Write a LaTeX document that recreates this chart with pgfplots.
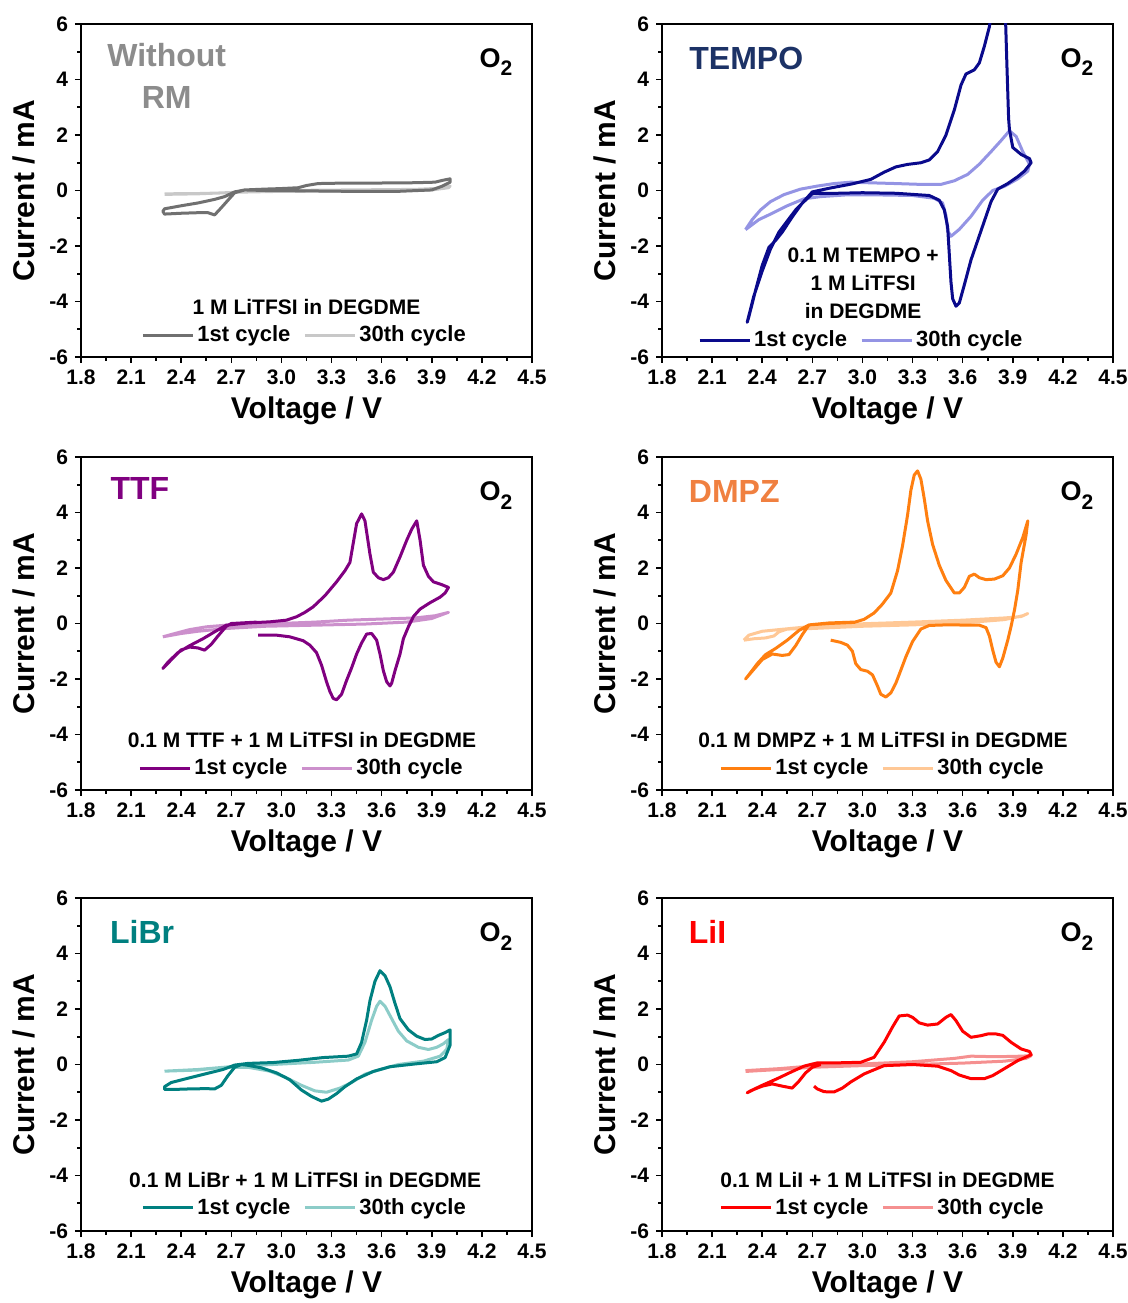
\documentclass[border=0pt]{standalone}
\usepackage{pgfplots}
\pgfplotsset{compat=1.18}
\usepackage{fontspec}
\setmainfont{Liberation Sans}

\definecolor{wr1}{HTML}{707070}
\definecolor{wr30}{HTML}{C8C8C8}
\definecolor{wrt}{HTML}{8C8C8C}
\definecolor{te1}{HTML}{0A0A8C}
\definecolor{te30}{HTML}{9494E4}
\definecolor{tet}{HTML}{1C3266}
\definecolor{tt1}{HTML}{800080}
\definecolor{tt30}{HTML}{CC90CC}
\definecolor{dm1}{HTML}{FF7F10}
\definecolor{dm30}{HTML}{FFC896}
\definecolor{dmt}{HTML}{F08040}
\definecolor{lb1}{HTML}{008080}
\definecolor{lb30}{HTML}{8CCCC8}
\definecolor{li1}{HTML}{FF0000}
\definecolor{li30}{HTML}{F59090}

\pgfplotsset{
  cvaxis/.style={
    scale only axis, width=225.5pt, height=166.5pt,
    anchor=south west,
    xmin=1.8, xmax=4.5, ymin=-6, ymax=6,
    xtick={1.8,2.1,2.4,2.7,3.0,3.3,3.6,3.9,4.2,4.5},
    ytick={-6,-4,-2,0,2,4,6},
    xtick pos=bottom, ytick pos=left,
    minor x tick num=1, minor y tick num=1,
    tick align=outside, major tick length=3pt, minor tick length=1.8pt,
    axis line style={line width=1pt},
    every tick/.style={black, line width=0.8pt},
    /pgf/number format/assume math mode=true,
    xticklabel style={/pgf/number format/.cd, fixed, fixed zerofill, precision=1},
    tick label style={font=\fontsize{10.5}{12}\selectfont\bfseries},
    xlabel={Voltage / V}, ylabel={Current / mA},
    label style={font=\fontsize{15}{18}\selectfont\bfseries},
    xlabel style={yshift=1pt},
    legend style={draw=none, fill=none, font=\fontsize{11}{13}\selectfont\bfseries,
      legend columns=2, anchor=center, inner sep=0pt,
      nodes={inner sep=1.5pt},
      /tikz/every even column/.append style={column sep=5pt}},
    legend image code/.code={\draw[#1] (0pt,0pt) -- (25pt,0pt);},
    every axis plot/.append style={line width=1.5pt, line join=round},
  },
}
\tikzset{
  ttl/.style={font=\fontsize{16}{21}\selectfont\bfseries, anchor=west},
  ann/.style={font=\fontsize{10.5}{14}\selectfont\bfseries, align=center},
}
\newcommand{\Otwo}{\node[font=\fontsize{13.5}{15}\selectfont\bfseries] at (rel axis cs:0.92,0.885) {O\raisebox{-0.6ex}{\fontsize{10.5}{11}\selectfont 2}};}

\begin{document}
\begin{tikzpicture}
\useasboundingbox (0,0) rectangle (564pt,651.5pt);

% ---------------- Without RM ----------------
\begin{axis}[cvaxis, at={(40.5pt,473pt)}, legend style={at={(0.497,0.066)}}]
\addplot[wr30, forget plot] coordinates {(2.30,-0.12) (2.50,-0.11) (2.70,-0.08) (2.80,-0.02) (3.00,0.0) (3.40,0.02) (3.80,0.04) (3.95,0.08) (4.01,0.16) (4.00,0.10) (3.90,0.02) (3.50,-0.02) (3.00,-0.03) (2.75,-0.06) (2.50,-0.12) (2.30,-0.14)};
\addplot[wr1] coordinates {(2.78,0.02) (2.72,-0.08) (2.68,-0.35) (2.64,-0.62) (2.60,-0.88) (2.56,-0.80) (2.50,-0.80) (2.40,-0.82) (2.30,-0.85) (2.29,-0.75) (2.30,-0.66) (2.40,-0.55) (2.50,-0.45) (2.60,-0.32) (2.66,-0.22) (2.72,-0.05) (2.78,0.02) (2.90,0.05) (3.00,0.07) (3.10,0.10) (3.15,0.18) (3.22,0.25) (3.40,0.27) (3.60,0.27) (3.80,0.28) (3.92,0.30) (3.96,0.36) (4.01,0.42) (4.01,0.30) (3.96,0.15) (3.90,0.02) (3.70,-0.03) (3.40,-0.03) (3.10,-0.01) (2.90,0.0) (2.78,0.02)};
\addlegendentry{1st cycle}
\addlegendimage{wr30, line width=1.5pt}
\addlegendentry{30th cycle}
\node[font=\fontsize{16}{21}\selectfont\bfseries, text=wrt, align=center] at (rel axis cs:0.19,0.845) {Without\\RM};
\Otwo
\node[ann] at (rel axis cs:0.5,0.15) {1 M LiTFSI in DEGDME};
\end{axis}

% ---------------- TEMPO ----------------
\begin{axis}[cvaxis, at={(331pt,473pt)}, legend style={at={(0.443,0.05)}}]
\addplot[te30, forget plot] coordinates {(2.30,-1.41) (2.34,-1.05) (2.39,-0.70) (2.45,-0.40) (2.53,-0.15) (2.63,0.05) (2.73,0.16) (2.83,0.25) (2.93,0.30) (3.03,0.28) (3.20,0.25) (3.35,0.22) (3.47,0.22) (3.55,0.35) (3.63,0.58) (3.70,0.95) (3.77,1.40) (3.83,1.80) (3.88,2.15) (3.92,1.95) (3.96,1.40) (4.00,0.95) (3.99,0.70) (3.93,0.42) (3.85,0.15) (3.78,0.0) (3.72,-0.35) (3.65,-0.93) (3.58,-1.40) (3.53,-1.65) (3.51,-1.45) (3.50,-0.90) (3.48,-0.45) (3.43,-0.28) (3.30,-0.18) (3.10,-0.16) (2.90,-0.16) (2.75,-0.22) (2.65,-0.30) (2.55,-0.55) (2.45,-0.85) (2.38,-1.05) (2.30,-1.41)};
\addplot[te1] coordinates {(2.75,-0.10) (2.70,-0.12) (2.65,-0.40) (2.60,-0.70) (2.55,-1.10) (2.50,-1.50) (2.45,-2.10) (2.40,-2.90) (2.35,-3.80) (2.31,-4.75) (2.32,-4.55) (2.36,-3.60) (2.40,-2.70) (2.44,-2.05) (2.48,-1.80) (2.52,-1.50) (2.58,-0.95) (2.64,-0.45) (2.70,-0.05) (2.80,0.08) (2.94,0.24) (3.05,0.40) (3.13,0.66) (3.20,0.85) (3.27,0.94) (3.35,1.00) (3.40,1.10) (3.45,1.40) (3.50,2.00) (3.55,2.90) (3.59,3.80) (3.62,4.20) (3.67,4.35) (3.70,4.60) (3.73,5.20) (3.76,5.90) (3.79,7.20) (3.84,7.50) (3.855,6.5) (3.865,4.5) (3.875,2.60) (3.88,2.20) (3.90,1.55) (3.95,1.30) (4.00,1.15) (4.01,1.00) (3.97,0.70) (3.93,0.50) (3.87,0.25) (3.81,0.05) (3.77,-0.40) (3.73,-1.10) (3.69,-1.80) (3.65,-2.50) (3.61,-3.40) (3.58,-4.05) (3.56,-4.17) (3.54,-3.90) (3.53,-3.30) (3.52,-2.30) (3.51,-1.30) (3.49,-0.70) (3.46,-0.35) (3.40,-0.18) (3.20,-0.10) (3.00,-0.08) (2.85,-0.10) (2.75,-0.10)};
\addlegendentry{1st cycle}
\addlegendimage{te30, line width=1.5pt}
\addlegendentry{30th cycle}
\node[ttl, text=tet] at (rel axis cs:0.045,0.895) {TEMPO};
\Otwo
\node[ann] at (rel axis cs:0.446,0.22) {0.1 M TEMPO +\\1 M LiTFSI\\in DEGDME};
\end{axis}

% ---------------- TTF ----------------
\begin{axis}[cvaxis, at={(40.5pt,256.5pt)}, legend style={at={(0.49,0.066)}}]
\addplot[tt30, forget plot] coordinates {(2.29,-0.48) (2.35,-0.38) (2.45,-0.22) (2.55,-0.12) (2.67,-0.06) (2.90,-0.02) (3.20,0.05) (3.40,0.12) (3.60,0.16) (3.80,0.20) (3.92,0.28) (4.00,0.40) (3.98,0.36) (3.90,0.18) (3.75,0.05) (3.50,-0.02) (3.20,-0.06) (2.90,-0.10) (2.67,-0.18) (2.50,-0.28) (2.40,-0.36) (2.29,-0.48)};
\addplot[tt1] coordinates {(2.85,0.05) (2.70,0.0) (2.67,-0.10) (2.62,-0.45) (2.58,-0.75) (2.54,-0.96) (2.50,-0.88) (2.45,-0.85) (2.40,-0.95) (2.35,-1.25) (2.29,-1.62) (2.32,-1.40) (2.38,-1.05) (2.45,-0.80) (2.53,-0.55) (2.60,-0.30) (2.67,-0.06) (2.80,0.02) (2.93,0.06) (3.03,0.12) (3.09,0.24) (3.14,0.40) (3.19,0.60) (3.26,1.00) (3.33,1.50) (3.38,1.90) (3.41,2.20) (3.43,2.90) (3.45,3.60) (3.48,3.95) (3.50,3.70) (3.51,3.30) (3.53,2.50) (3.55,1.85) (3.58,1.65) (3.61,1.58) (3.64,1.65) (3.67,1.85) (3.71,2.40) (3.75,3.00) (3.78,3.40) (3.81,3.70) (3.83,3.00) (3.85,2.10) (3.88,1.70) (3.91,1.50) (3.96,1.40) (4.00,1.30) (3.98,1.10) (3.95,0.95) (3.89,0.75) (3.83,0.52) (3.79,0.25) (3.76,-0.12) (3.73,-0.55) (3.71,-1.10) (3.68,-1.70) (3.66,-2.15) (3.65,-2.25) (3.63,-2.10) (3.61,-1.70) (3.59,-1.10) (3.57,-0.60) (3.54,-0.36) (3.51,-0.38) (3.48,-0.70) (3.45,-1.10) (3.42,-1.60) (3.39,-2.05) (3.36,-2.55) (3.33,-2.75) (3.31,-2.70) (3.29,-2.45) (3.27,-2.10) (3.24,-1.50) (3.21,-1.05) (3.17,-0.78) (3.13,-0.62) (3.05,-0.48) (2.97,-0.42) (2.86,-0.42)};
\addlegendentry{1st cycle}
\addlegendimage{tt30, line width=1.5pt}
\addlegendentry{30th cycle}
\node[ttl, text=tt1] at (rel axis cs:0.05,0.905) {TTF};
\Otwo
\node[ann] at (rel axis cs:0.49,0.15) {0.1 M TTF + 1 M LiTFSI in DEGDME};
\end{axis}

% ---------------- DMPZ ----------------
\begin{axis}[cvaxis, at={(331pt,256.5pt)}, legend style={at={(0.49,0.066)}}]
\addplot[dm30, forget plot] coordinates {(2.29,-0.60) (2.32,-0.42) (2.40,-0.28) (2.50,-0.22) (2.67,-0.12) (2.95,-0.02) (3.30,0.05) (3.60,0.12) (3.85,0.20) (3.95,0.25) (3.99,0.36) (3.96,0.28) (3.85,0.14) (3.60,0.02) (3.30,-0.05) (3.00,-0.10) (2.70,-0.18) (2.55,-0.20) (2.50,-0.30) (2.47,-0.45) (2.42,-0.52) (2.35,-0.55) (2.29,-0.60)};
\addplot[dm1] coordinates {(2.95,0.05) (2.80,0.02) (2.68,-0.05) (2.64,-0.40) (2.60,-0.80) (2.56,-1.12) (2.52,-1.15) (2.46,-1.10) (2.40,-1.30) (2.35,-1.65) (2.30,-2.00) (2.32,-1.85) (2.37,-1.45) (2.42,-1.12) (2.48,-0.90) (2.55,-0.60) (2.62,-0.25) (2.68,-0.05) (2.80,0.0) (2.95,0.04) (3.01,0.15) (3.07,0.38) (3.12,0.70) (3.17,1.10) (3.21,1.90) (3.24,2.80) (3.27,3.90) (3.29,4.80) (3.31,5.35) (3.33,5.50) (3.35,5.20) (3.37,4.50) (3.39,3.70) (3.42,2.85) (3.46,2.10) (3.50,1.55) (3.55,1.10) (3.58,1.10) (3.61,1.30) (3.64,1.70) (3.67,1.78) (3.70,1.65) (3.74,1.58) (3.79,1.60) (3.84,1.72) (3.88,2.00) (3.92,2.50) (3.96,3.10) (3.99,3.70) (3.98,3.20) (3.95,2.20) (3.93,1.20) (3.91,0.48) (3.89,-0.10) (3.87,-0.60) (3.84,-1.25) (3.82,-1.56) (3.80,-1.40) (3.78,-0.96) (3.76,-0.45) (3.74,-0.15) (3.70,-0.06) (3.50,-0.05) (3.40,-0.07) (3.35,-0.20) (3.30,-0.65) (3.26,-1.20) (3.23,-1.68) (3.20,-2.15) (3.17,-2.50) (3.14,-2.65) (3.11,-2.55) (3.09,-2.25) (3.06,-1.85) (3.03,-1.72) (2.99,-1.66) (2.96,-1.45) (2.94,-1.00) (2.91,-0.78) (2.87,-0.68) (2.81,-0.60)};
\addlegendentry{1st cycle}
\addlegendimage{dm30, line width=1.5pt}
\addlegendentry{30th cycle}
\node[ttl, text=dmt] at (rel axis cs:0.044,0.897) {DMPZ};
\Otwo
\node[ann] at (rel axis cs:0.49,0.15) {0.1 M DMPZ + 1 M LiTFSI in DEGDME};
\end{axis}

% ---------------- LiBr ----------------
\begin{axis}[cvaxis, at={(40.5pt,36pt)}, legend style={at={(0.497,0.07)}}]
\addplot[lb30, forget plot] coordinates {(2.30,-0.24) (2.50,-0.18) (2.73,-0.06) (2.95,0.0) (3.20,0.08) (3.40,0.16) (3.46,0.30) (3.50,0.80) (3.54,1.60) (3.57,2.10) (3.59,2.28) (3.62,2.10) (3.66,1.65) (3.70,1.20) (3.75,0.85) (3.82,0.62) (3.88,0.54) (3.93,0.62) (3.97,0.75) (4.00,0.90) (3.99,0.55) (3.95,0.30) (3.85,0.12) (3.70,0.0) (3.58,-0.20) (3.50,-0.35) (3.42,-0.65) (3.35,-0.85) (3.27,-1.00) (3.20,-0.95) (3.12,-0.75) (3.02,-0.45) (2.93,-0.24) (2.80,-0.10) (2.65,-0.10) (2.50,-0.20) (2.30,-0.24)};
\addplot[lb1] coordinates {(2.76,0.0) (2.72,-0.10) (2.68,-0.40) (2.64,-0.75) (2.60,-0.88) (2.55,-0.87) (2.45,-0.88) (2.35,-0.90) (2.30,-0.90) (2.30,-0.80) (2.34,-0.65) (2.45,-0.48) (2.55,-0.33) (2.65,-0.18) (2.72,-0.02) (2.80,0.04) (2.95,0.07) (3.10,0.15) (3.25,0.25) (3.40,0.30) (3.45,0.38) (3.48,0.80) (3.51,1.60) (3.53,2.30) (3.56,3.00) (3.59,3.38) (3.62,3.20) (3.65,2.80) (3.68,2.20) (3.71,1.65) (3.76,1.25) (3.81,1.02) (3.86,0.90) (3.90,0.92) (3.94,1.05) (3.98,1.15) (4.01,1.25) (4.01,0.70) (3.98,0.25) (3.93,0.10) (3.80,0.02) (3.65,-0.08) (3.55,-0.25) (3.45,-0.52) (3.38,-0.80) (3.33,-1.05) (3.28,-1.25) (3.24,-1.32) (3.18,-1.15) (3.12,-0.92) (3.05,-0.55) (2.97,-0.30) (2.88,-0.12) (2.80,-0.03) (2.76,0.0)};
\addlegendentry{1st cycle}
\addlegendimage{lb30, line width=1.5pt}
\addlegendentry{30th cycle}
\node[ttl, text=lb1] at (rel axis cs:0.049,0.898) {LiBr};
\Otwo
\node[ann] at (rel axis cs:0.497,0.153) {0.1 M LiBr + 1 M LiTFSI in DEGDME};
\end{axis}

% ---------------- LiI ----------------
\begin{axis}[cvaxis, at={(331pt,36pt)}, legend style={at={(0.49,0.07)}}]
\addplot[li30, forget plot] coordinates {(2.30,-0.22) (2.50,-0.15) (2.70,-0.05) (3.00,0.02) (3.30,0.10) (3.55,0.22) (3.65,0.30) (3.80,0.28) (3.95,0.30) (4.01,0.32) (3.98,0.22) (3.85,0.12) (3.60,0.05) (3.30,0.0) (3.00,-0.04) (2.70,-0.10) (2.50,-0.18) (2.30,-0.25)};
\addplot[li1] coordinates {(2.75,0.0) (2.70,-0.10) (2.66,-0.30) (2.62,-0.60) (2.58,-0.85) (2.52,-0.78) (2.46,-0.70) (2.40,-0.78) (2.35,-0.90) (2.31,-1.02) (2.33,-0.95) (2.40,-0.75) (2.49,-0.51) (2.57,-0.28) (2.65,-0.06) (2.73,0.06) (2.85,0.06) (2.99,0.08) (3.07,0.26) (3.13,0.80) (3.18,1.35) (3.22,1.75) (3.27,1.78) (3.30,1.70) (3.34,1.50) (3.39,1.42) (3.45,1.46) (3.50,1.70) (3.53,1.80) (3.56,1.58) (3.60,1.20) (3.65,0.98) (3.71,1.04) (3.75,1.10) (3.80,1.10) (3.84,1.05) (3.89,0.80) (3.95,0.56) (4.00,0.47) (4.01,0.35) (3.93,0.14) (3.83,-0.22) (3.78,-0.40) (3.73,-0.51) (3.65,-0.51) (3.58,-0.38) (3.53,-0.22) (3.45,-0.06) (3.30,0.0) (3.13,-0.04) (3.01,-0.34) (2.93,-0.63) (2.88,-0.85) (2.83,-0.99) (2.77,-0.98) (2.73,-0.88) (2.71,-0.78)};
\addlegendentry{1st cycle}
\addlegendimage{li30, line width=1.5pt}
\addlegendentry{30th cycle}
\node[ttl, text=li1] at (rel axis cs:0.044,0.898) {LiI};
\Otwo
\node[ann] at (rel axis cs:0.5,0.153) {0.1 M LiI + 1 M LiTFSI in DEGDME};
\end{axis}
\end{tikzpicture}
\end{document}
